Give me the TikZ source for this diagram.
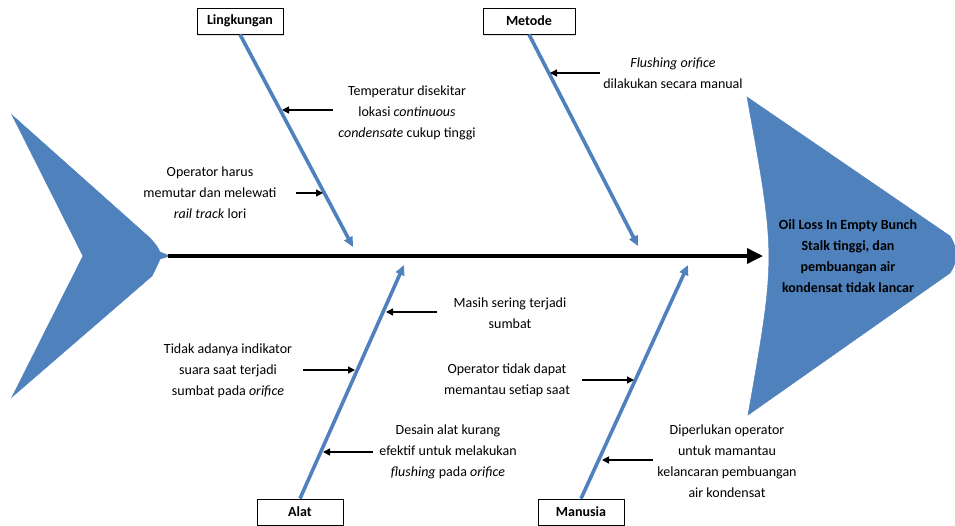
\documentclass[tikz,border=0pt]{standalone}
\usepackage{fontspec}
\setmainfont{Carlito}
\usetikzlibrary{arrows.meta,shadows}
\definecolor{fishblue}{RGB}{79,129,189}
\begin{document}
\begin{tikzpicture}[x=1pt,y=-1pt,
  txt/.style={align=center,inner sep=0pt,font=\fontsize{14}{21}\selectfont},
  headtxt/.style={align=center,inner sep=0pt,font=\fontsize{14}{21}\selectfont\bfseries},
  catbox/.style={draw=black,line width=0.9pt,fill=white,minimum width=86pt,minimum height=26pt,inner sep=0pt,
    font=\fontsize{14}{17}\selectfont\bfseries,
    drop shadow={opacity=0.25,shadow xshift=1pt,shadow yshift=-1.5pt}},
  bone/.style={draw=fishblue,line width=3.6pt,-{Triangle[length=10pt,width=9pt]}},
  cause/.style={draw=black,line width=1.4pt,-{Triangle[length=7pt,width=7pt]}},
  spine/.style={draw=black,line width=3.5pt,-{Triangle[length=16pt,width=15pt]}},
  fish/.style={fill=fishblue,draw=fishblue,line width=0.5pt}
]
\useasboundingbox (0,0) rectangle (955,525);

% tail
\path[fish] (12,115) -- (150,238) .. controls (157,246) .. (160,252) -- (170,256)
  -- (160,259) .. controls (157,266) .. (152,276) -- (12,397) -- (83,256) -- cycle;
% head
\path[fish] (747,97) -- (950,236) .. controls (958,248) and (958,262) .. (950,273)
  -- (748,415) .. controls (776,256) .. (747,97) -- cycle;

\coordinate (tailneck) at (168,256);
\coordinate (headnotch) at (763,256);
\node[headtxt] (effect) at (848,256) {Oil Loss In Empty Bunch\\Stalk tinggi, dan\\pembuangan air\\kondensat tidak lancar};

% spine
\draw[spine] (tailneck) -- (headnotch);

% category boxes
\node[catbox] (ling) at (240,21) {Lingkungan};
\node[catbox,minimum width=92pt] (met) at (529,21) {Metode};
\node[catbox] (alat) at (300,512) {Alat};
\node[catbox] (man) at (581,512) {Manusia};

% bone tips
\coordinate (lingtip) at (353,247);
\coordinate (mettip) at (638,246);
\coordinate (alattip) at (404,265);
\coordinate (mantip) at (688,265);

\draw[bone] (ling.south) -- (lingtip);
\draw[bone] (met.south) -- (mettip);
\draw[bone] (alat.north) -- (alattip);
\draw[bone] (man.north) -- (mantip);

% cause texts
\node[txt] (c1) at (407,113) {Temperatur disekitar\\lokasi \emph{continuous}\\\emph{condensate} cukup tinggi};
\node[txt] (c2) at (210,193) {Operator harus\\memutar dan melewati\\\emph{rail track} lori};
\node[txt] (c3) at (673,73) {\emph{Flushing orifice}\\dilakukan secara manual};
\node[txt] (c4) at (510,313) {Masih sering terjadi\\sumbat};
\node[txt] (c5) at (228,371) {Tidak adanya indikator\\suara saat terjadi\\sumbat pada \emph{orifice}};
\node[txt] (c6) at (507,380) {Operator tidak dapat\\memantau setiap saat};
\node[txt] (c7) at (448,452) {Desain alat kurang\\efektif untuk melakukan\\\emph{flushing} pada \emph{orifice}};
\node[txt] (c8) at (727,461) {Diperlukan operator\\untuk mamantau\\kelancaran pembuangan\\air kondensat};

% cause arrow ends
\coordinate (a1s) at (333,110); \coordinate (a1e) at (282,110);
\coordinate (a2s) at (296,193); \coordinate (a2e) at (323,193);
\coordinate (a3s) at (600,73);  \coordinate (a3e) at (550,73);
\coordinate (a4s) at (437,312); \coordinate (a4e) at (386,312);
\coordinate (a5s) at (303,370); \coordinate (a5e) at (355,370);
\coordinate (a6s) at (582,380); \coordinate (a6e) at (634,380);
\coordinate (a7s) at (373,452); \coordinate (a7e) at (323,452);
\coordinate (a8s) at (653,460); \coordinate (a8e) at (602,460);

\draw[cause] (a1s) -- (a1e);
\draw[cause] (a2s) -- (a2e);
\draw[cause] (a3s) -- (a3e);
\draw[cause] (a4s) -- (a4e);
\draw[cause] (a5s) -- (a5e);
\draw[cause] (a6s) -- (a6e);
\draw[cause] (a7s) -- (a7e);
\draw[cause] (a8s) -- (a8e);
\end{tikzpicture}
\end{document}
